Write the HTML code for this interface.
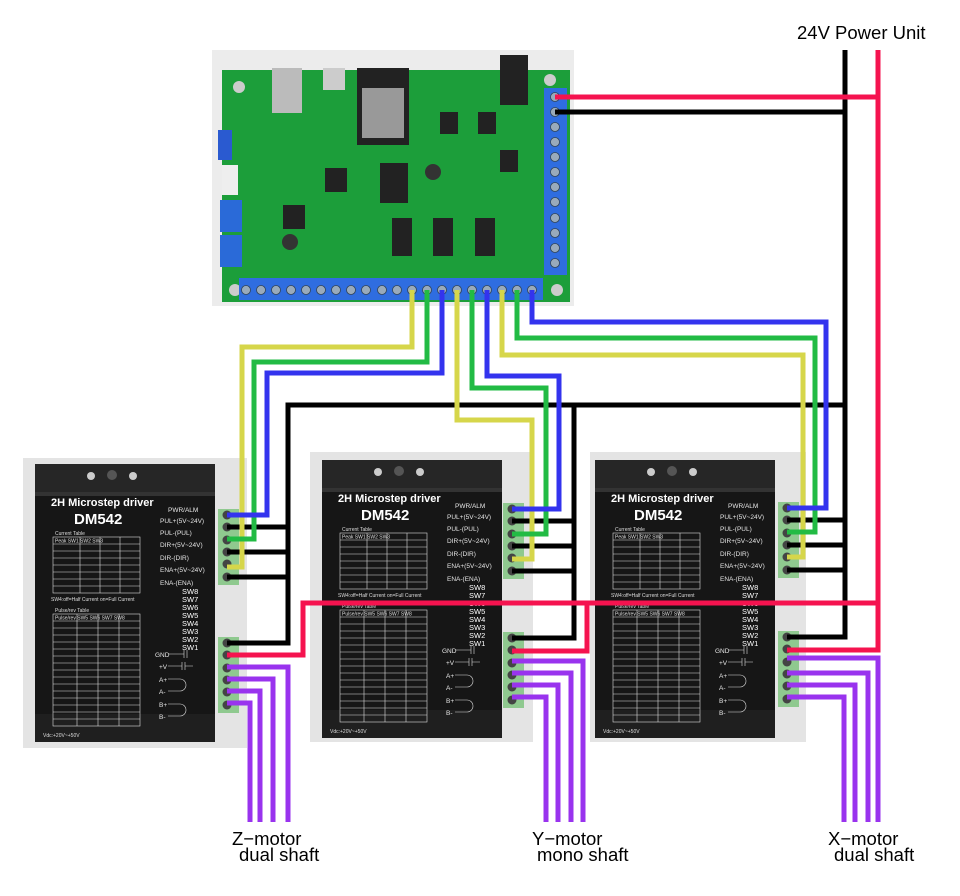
<!DOCTYPE html>
<html><head><meta charset="utf-8"><style>
html,body{margin:0;padding:0;background:#fff;}
svg{display:block;font-family:"Liberation Sans",sans-serif;}
</style></head><body>
<svg width="960" height="896" viewBox="0 0 960 896" xmlns="http://www.w3.org/2000/svg">
<defs>
<g id="drv">
  <rect x="0" y="0" width="180" height="278" fill="#161616"/>
  <rect x="0" y="0" width="180" height="28" fill="#262626"/>
  <rect x="0" y="28" width="180" height="4" fill="#333"/>
  <circle cx="56" cy="12" r="4" fill="#ccc"/><circle cx="98" cy="12" r="4" fill="#ccc"/><circle cx="77" cy="11" r="5" fill="#555"/>
  <rect x="0" y="250" width="180" height="28" fill="#1f1f1f"/>
  <g fill="none" stroke="#ddd" stroke-width="0.6">
    <rect x="18" y="73" width="87" height="56"/>
    <line x1="18" y1="80" x2="105" y2="80"/><line x1="18" y1="87" x2="105" y2="87"/><line x1="18" y1="94" x2="105" y2="94"/><line x1="18" y1="101" x2="105" y2="101"/><line x1="18" y1="108" x2="105" y2="108"/><line x1="18" y1="115" x2="105" y2="115"/><line x1="18" y1="122" x2="105" y2="122"/>
    <line x1="45" y1="73" x2="45" y2="129"/><line x1="65" y1="73" x2="65" y2="129"/><line x1="85" y1="73" x2="85" y2="129"/>
    <rect x="18" y="150" width="87" height="112"/>
    <line x1="18" y1="157" x2="105" y2="157"/><line x1="18" y1="164" x2="105" y2="164"/><line x1="18" y1="171" x2="105" y2="171"/><line x1="18" y1="178" x2="105" y2="178"/><line x1="18" y1="185" x2="105" y2="185"/><line x1="18" y1="192" x2="105" y2="192"/><line x1="18" y1="199" x2="105" y2="199"/><line x1="18" y1="206" x2="105" y2="206"/><line x1="18" y1="213" x2="105" y2="213"/><line x1="18" y1="220" x2="105" y2="220"/><line x1="18" y1="227" x2="105" y2="227"/><line x1="18" y1="234" x2="105" y2="234"/><line x1="18" y1="241" x2="105" y2="241"/><line x1="18" y1="248" x2="105" y2="248"/><line x1="18" y1="255" x2="105" y2="255"/>
    <line x1="42" y1="150" x2="42" y2="262"/><line x1="63" y1="150" x2="63" y2="262"/><line x1="84" y1="150" x2="84" y2="262"/>
    <path d="M133 190 h16 M149 186 v8 M152 186 v8 M133 202 h14 M147 198 v8 M150 198 v8 M150 202 h8 M133 215 h12 a3 3 0 0 1 0 12 h-12 M133 240 h12 a3 3 0 0 1 0 12 h-12"/>
  </g>
  <g fill="#ddd" font-size="5">
    <text x="20" y="71">Current Table</text>
    <text x="20" y="78.5">Peak   SW1   SW2   SW3</text>
    <text x="16" y="137">SW4:off=Half Current  on=Full Current</text>
    <text x="20" y="148">Pulse/rev Table</text>
    <text x="20" y="155.5">Pulse/rev SW5  SW6  SW7  SW8</text>
    <text x="8" y="273">Vdc:+20V~+50V</text>
  </g>
  <text x="16" y="42" fill="#fff" font-size="11" font-weight="bold">2H Microstep driver</text>
  <text x="39" y="60" fill="#fff" font-size="15" font-weight="bold">DM542</text>
  <g fill="#e6e6e6" font-size="6.5">
    <text x="133" y="48">PWR/ALM</text>
    <text x="125" y="59">PUL+(5V~24V)</text>
    <text x="125" y="71">PUL-(PUL)</text>
    <text x="125" y="83">DIR+(5V~24V)</text>
    <text x="125" y="96">DIR-(DIR)</text>
    <text x="125" y="108">ENA+(5V~24V)</text>
    <text x="125" y="121">ENA-(ENA)</text>
    <text x="120" y="193">GND</text><text x="124" y="205">+V</text><text x="124" y="218">A+</text><text x="124" y="230">A-</text><text x="124" y="243">B+</text><text x="124" y="255">B-</text>
  </g>
  <g fill="#fff" font-size="7.5">
    <text x="147" y="130">SW8</text><text x="147" y="138">SW7</text><text x="147" y="146">SW6</text><text x="147" y="154">SW5</text><text x="147" y="162">SW4</text><text x="147" y="170">SW3</text><text x="147" y="178">SW2</text><text x="147" y="186">SW1</text>
  </g>
</g>
<g id="conn">
  <rect x="0" y="0" width="21" height="76" fill="#8fc98f"/>
  <circle cx="9" cy="6" r="4.5" fill="#444"/><circle cx="9" cy="18" r="4.5" fill="#444"/><circle cx="9" cy="31" r="4.5" fill="#444"/><circle cx="9" cy="43" r="4.5" fill="#444"/><circle cx="9" cy="55" r="4.5" fill="#444"/><circle cx="9" cy="68" r="4.5" fill="#444"/>
</g>
</defs>

<!-- board -->
<rect x="212" y="50" width="362" height="256" fill="#ececec"/>
<rect x="222" y="70" width="348" height="232" fill="#1c9e3a"/>
<rect x="272" y="68" width="30" height="45" fill="#bbb"/>
<rect x="323" y="68" width="22" height="22" fill="#ccc"/>
<rect x="357" y="68" width="52" height="77" fill="#222"/><rect x="362" y="88" width="42" height="50" fill="#999"/>
<rect x="500" y="55" width="28" height="50" fill="#222"/>
<rect x="218" y="130" width="14" height="30" fill="#2a5ad0"/>
<rect x="222" y="165" width="16" height="30" fill="#eee"/>
<rect x="220" y="200" width="22" height="32" fill="#2a6ad8"/>
<rect x="220" y="235" width="22" height="32" fill="#2a6ad8"/>
<rect x="325" y="168" width="22" height="24" fill="#222"/><rect x="283" y="205" width="22" height="24" fill="#222"/>
<rect x="380" y="163" width="28" height="40" fill="#222"/>
<rect x="392" y="218" width="20" height="38" fill="#222"/><rect x="433" y="218" width="20" height="38" fill="#222"/><rect x="475" y="218" width="20" height="38" fill="#222"/>
<rect x="440" y="112" width="18" height="22" fill="#222"/><rect x="478" y="112" width="18" height="22" fill="#222"/><rect x="500" y="150" width="18" height="22" fill="#222"/>
<circle cx="433" cy="172" r="8" fill="#333"/><circle cx="290" cy="242" r="8" fill="#333"/>
<circle cx="239" cy="87" r="6" fill="#ccc"/><circle cx="550" cy="80" r="6" fill="#ccc"/><circle cx="235" cy="290" r="6" fill="#ccc"/><circle cx="557" cy="290" r="6" fill="#ccc"/>
<rect x="544" y="88" width="23" height="187" fill="#2f6de0"/>
<g fill="#9ab" stroke="#345" stroke-width="0.8">
<circle cx="555" cy="97" r="4.5"/><circle cx="555" cy="112" r="4.5"/><circle cx="555" cy="127" r="4.5"/><circle cx="555" cy="142" r="4.5"/><circle cx="555" cy="157" r="4.5"/><circle cx="555" cy="172" r="4.5"/><circle cx="555" cy="187" r="4.5"/><circle cx="555" cy="202" r="4.5"/><circle cx="555" cy="218" r="4.5"/><circle cx="555" cy="233" r="4.5"/><circle cx="555" cy="248" r="4.5"/><circle cx="555" cy="263" r="4.5"/>
</g>
<rect x="239" y="278" width="304" height="22" fill="#2f6de0"/>
<g fill="#9ab" stroke="#345" stroke-width="0.8">
<circle cx="246" cy="290" r="4.5"/><circle cx="261" cy="290" r="4.5"/><circle cx="276" cy="290" r="4.5"/><circle cx="291" cy="290" r="4.5"/><circle cx="306" cy="290" r="4.5"/><circle cx="321" cy="290" r="4.5"/><circle cx="336" cy="290" r="4.5"/><circle cx="351" cy="290" r="4.5"/><circle cx="366" cy="290" r="4.5"/><circle cx="382" cy="290" r="4.5"/><circle cx="397" cy="290" r="4.5"/><circle cx="412" cy="290" r="4.5"/><circle cx="427" cy="290" r="4.5"/><circle cx="442" cy="290" r="4.5"/><circle cx="457" cy="290" r="4.5"/><circle cx="472" cy="290" r="4.5"/><circle cx="487" cy="290" r="4.5"/><circle cx="502" cy="290" r="4.5"/><circle cx="517" cy="290" r="4.5"/><circle cx="532" cy="290" r="4.5"/>
</g>

<!-- drivers -->
<rect x="23" y="458" width="224" height="290" fill="#e4e4e4"/>
<use href="#drv" x="35" y="464"/>
<use href="#conn" x="218" y="509"/><use href="#conn" x="218" y="637"/>

<rect x="310" y="452" width="223" height="290" fill="#e4e4e4"/>
<use href="#drv" x="322" y="460"/>
<use href="#conn" x="503" y="503"/><use href="#conn" x="503" y="632"/>

<rect x="590" y="452" width="216" height="290" fill="#e4e4e4"/>
<use href="#drv" x="595" y="460"/>
<use href="#conn" x="778" y="502"/><use href="#conn" x="778" y="631"/>

<g fill="none" stroke-width="5" stroke-linejoin="miter">
<path d="M845 50 V637 H787 M845 112 H555 M845 405 H288 V643 H227 M288 527 H227 M288 552 H227 M288 577 H227 M574 405 V638 H512 M574 521 H512 M574 546 H512 M574 571 H512 M845 520 H787 M845 545 H787 M845 570 H787" stroke="#000"/>
<path d="M878 50 V650 H787 M878 97 H555 M878 603 H303 V655 H227 M587 603 V651 H512" stroke="#f5134f"/>
<path d="M412 290 V347 H242 V567 H227" stroke="#d6d64a"/>
<path d="M427 290 V362 H254 V539 H227" stroke="#22bb44"/>
<path d="M442 290 V373 H267 V515 H227" stroke="#3333ee"/>
<path d="M457 290 V420 H532 V559 H512" stroke="#d6d64a"/>
<path d="M472 290 V388 H546 V534 H512" stroke="#22bb44"/>
<path d="M487 290 V376 H559 V509 H512" stroke="#3333ee"/>
<path d="M502 290 V355 H803 V557 H787" stroke="#d6d64a"/>
<path d="M517 290 V338 H815 V532 H787" stroke="#22bb44"/>
<path d="M532 290 V322 H826 V508 H787" stroke="#3333ee"/>
<g stroke="#9933ee">
<path d="M227 667 H288 V822 M227 679 H273 V822 M227 691 H260 V822 M227 703 H250 V822"/>
<path d="M512 661 H583 V822 M512 673 H571 V822 M512 685 H558 V822 M512 697 H546 V822"/>
<path d="M787 658 H878 V822 M787 673 H868 V822 M787 685 H855 V822 M787 697 H844 V822"/>
</g>
</g>

<g fill="#000" font-size="18.5">
<text x="797" y="39">24V Power Unit</text>
<text x="232" y="845">Z−motor</text><text x="239" y="861">dual shaft</text>
<text x="532" y="845">Y−motor</text><text x="537" y="861">mono shaft</text>
<text x="828" y="845">X−motor</text><text x="834" y="861">dual shaft</text>
</g>
</svg>
</body></html>
